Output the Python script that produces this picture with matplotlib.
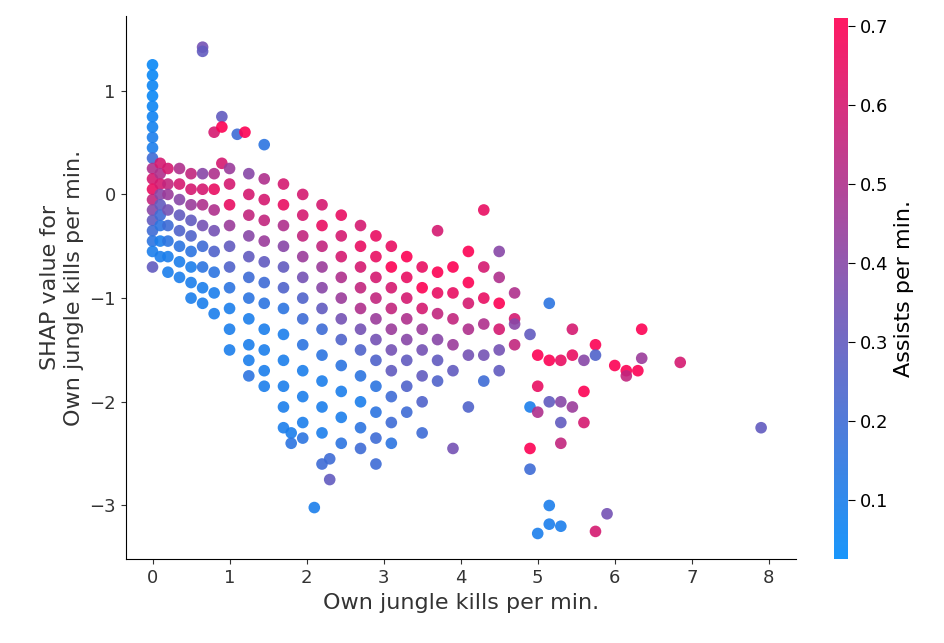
import matplotlib
matplotlib.use("Agg")
import matplotlib.pyplot as plt
from matplotlib.colors import LinearSegmentedColormap

# (own jungle kills per min, SHAP value, assists per min)
points = [
 (0,1.25,.05),(0,1.15,.05),(0,1.05,.06),(0,0.95,.05),(0,0.85,.06),(0,0.75,.07),(0,0.65,.08),(0,0.55,.1),
 (0,0.45,.1),(0,0.35,.2),(0,0.25,.5),(0,0.15,.6),(0,0.05,.65),(0,-0.05,.55),(0,-0.15,.4),(0,-0.25,.3),
 (0,-0.35,.2),(0,-0.45,.15),(0,-0.55,.1),(0,-0.7,.3),
 (0.1,0.3,.6),(0.1,0.2,.5),(0.1,0.1,.6),(0.1,0.0,.4),(0.1,-0.1,.3),(0.1,-0.2,.2),(0.1,-0.3,.15),(0.1,-0.45,.1),(0.1,-0.6,.1),
 (0.2,0.25,.6),(0.2,0.1,.55),(0.2,0.0,.45),(0.2,-0.15,.35),(0.2,-0.3,.2),(0.2,-0.45,.15),(0.2,-0.6,.1),(0.2,-0.75,.1),
 (0.35,0.25,.5),(0.35,0.1,.6),(0.35,-0.05,.4),(0.35,-0.2,.3),(0.35,-0.35,.25),(0.35,-0.5,.15),(0.35,-0.65,.1),(0.35,-0.8,.1),
 (0.5,0.2,.55),(0.5,0.05,.6),(0.5,-0.1,.45),(0.5,-0.25,.3),(0.5,-0.4,.25),(0.5,-0.55,.15),(0.5,-0.7,.1),(0.5,-0.85,.1),(0.5,-1.0,.1),
 (0.65,1.42,.35),(0.65,1.38,.3),(0.65,0.2,.4),(0.65,0.05,.6),(0.65,-0.1,.5),(0.65,-0.3,.35),(0.65,-0.5,.2),(0.65,-0.7,.15),(0.65,-0.9,.1),(0.65,-1.05,.1),
 (0.8,0.6,.6),(0.8,0.2,.5),(0.8,0.05,.65),(0.8,-0.15,.5),(0.8,-0.35,.35),(0.8,-0.55,.25),(0.8,-0.75,.15),(0.8,-0.95,.1),(0.8,-1.15,.1),
 (0.9,0.75,.3),(0.9,0.65,.7),(0.9,0.3,.6),(1.1,0.58,.2),(1.2,0.6,.7),
 (1.0,0.25,.45),(1.0,0.1,.6),(1.0,-0.1,.65),(1.0,-0.3,.45),(1.0,-0.5,.3),(1.0,-0.7,.25),(1.0,-0.9,.15),(1.0,-1.1,.1),(1.0,-1.3,.1),(1.0,-1.5,.1),
 (1.25,0.2,.4),(1.25,0.0,.6),(1.25,-0.2,.55),(1.25,-0.4,.4),(1.25,-0.6,.3),(1.25,-0.8,.2),(1.25,-1.0,.15),(1.25,-1.2,.1),(1.25,-1.45,.1),(1.25,-1.6,.1),(1.25,-1.75,.15),
 (1.45,0.48,.15),(1.45,0.15,.5),(1.45,-0.05,.6),(1.45,-0.25,.55),(1.45,-0.45,.45),(1.45,-0.65,.3),(1.45,-0.85,.2),(1.45,-1.05,.15),(1.45,-1.3,.1),(1.45,-1.5,.1),(1.45,-1.7,.1),(1.45,-1.85,.1),
 (1.7,0.1,.6),(1.7,-0.1,.65),(1.7,-0.3,.5),(1.7,-0.5,.4),(1.7,-0.7,.3),(1.7,-0.9,.25),(1.7,-1.1,.15),(1.7,-1.35,.1),(1.7,-1.6,.1),(1.7,-1.85,.1),(1.7,-2.05,.1),(1.7,-2.25,.1),
 (1.8,-2.3,.1),(1.8,-2.4,.15),
 (1.95,0.0,.6),(1.95,-0.2,.6),(1.95,-0.4,.55),(1.95,-0.6,.45),(1.95,-0.8,.35),(1.95,-1.0,.25),(1.95,-1.2,.2),(1.95,-1.45,.15),(1.95,-1.7,.1),(1.95,-1.95,.1),(1.95,-2.2,.1),(1.95,-2.35,.15),
 (2.1,-3.02,.1),
 (2.2,-0.1,.6),(2.2,-0.3,.65),(2.2,-0.5,.55),(2.2,-0.7,.45),(2.2,-0.9,.4),(2.2,-1.1,.3),(2.2,-1.3,.2),(2.2,-1.55,.15),(2.2,-1.8,.1),(2.2,-2.05,.1),(2.2,-2.3,.1),(2.2,-2.6,.2),
 (2.3,-2.75,.3),(2.3,-2.55,.2),
 (2.45,-0.2,.65),(2.45,-0.4,.6),(2.45,-0.6,.6),(2.45,-0.8,.5),(2.45,-1.0,.45),(2.45,-1.2,.35),(2.45,-1.4,.25),(2.45,-1.65,.15),(2.45,-1.9,.1),(2.45,-2.15,.1),(2.45,-2.4,.15),
 (2.7,-0.3,.6),(2.7,-0.5,.65),(2.7,-0.7,.6),(2.7,-0.9,.55),(2.7,-1.1,.5),(2.7,-1.3,.35),(2.7,-1.5,.25),(2.7,-1.75,.15),(2.7,-2.0,.1),(2.7,-2.25,.15),(2.7,-2.45,.2),
 (2.9,-0.4,.65),(2.9,-0.6,.65),(2.9,-0.8,.6),(2.9,-1.0,.55),(2.9,-1.2,.45),(2.9,-1.4,.35),(2.9,-1.6,.25),(2.9,-1.85,.15),(2.9,-2.1,.15),(2.9,-2.35,.2),(2.9,-2.6,.2),
 (3.1,-0.5,.65),(3.1,-0.7,.7),(3.1,-0.9,.6),(3.1,-1.1,.55),(3.1,-1.3,.45),(3.1,-1.5,.35),(3.1,-1.7,.3),(3.1,-1.95,.2),(3.1,-2.2,.2),(3.1,-2.4,.15),
 (3.3,-0.6,.7),(3.3,-0.8,.65),(3.3,-1.0,.6),(3.3,-1.2,.5),(3.3,-1.4,.4),(3.3,-1.6,.3),(3.3,-1.85,.25),(3.3,-2.1,.2),
 (3.5,-0.7,.65),(3.5,-0.9,.7),(3.5,-1.1,.6),(3.5,-1.3,.45),(3.5,-1.5,.35),(3.5,-1.75,.3),(3.5,-2.0,.25),(3.5,-2.3,.2),
 (3.7,-0.35,.6),(3.7,-0.75,.7),(3.7,-0.95,.65),(3.7,-1.15,.55),(3.7,-1.4,.4),(3.7,-1.6,.3),(3.7,-1.8,.25),
 (3.9,-0.7,.7),(3.9,-0.95,.65),(3.9,-1.2,.55),(3.9,-1.45,.45),(3.9,-1.7,.3),(3.9,-2.45,.35),
 (4.1,-0.55,.7),(4.1,-0.85,.7),(4.1,-1.05,.6),(4.1,-1.3,.5),(4.1,-1.55,.35),(4.1,-2.05,.25),
 (4.3,-0.15,.65),(4.3,-0.7,.6),(4.3,-1.0,.65),(4.3,-1.25,.5),(4.3,-1.55,.35),(4.3,-1.8,.2),
 (4.5,-0.55,.4),(4.5,-0.8,.5),(4.5,-1.05,.7),(4.5,-1.3,.6),(4.5,-1.5,.35),(4.5,-1.7,.3),
 (4.7,-0.95,.5),(4.7,-1.2,.6),(4.7,-1.45,.55),(4.7,-1.25,.4),
 (4.9,-1.35,.3),(4.9,-2.05,.1),(4.9,-2.65,.2),(4.9,-2.45,.7),
 (5.0,-1.55,.7),(5.0,-2.1,.5),(5.0,-1.85,.65),(5.0,-3.27,.1),
 (5.15,-1.05,.15),(5.15,-1.6,.7),(5.15,-2.0,.3),(5.15,-3.0,.1),(5.15,-3.18,.1),
 (5.3,-1.6,.65),(5.3,-2.0,.4),(5.3,-2.4,.55),(5.3,-2.2,.3),(5.3,-3.2,.1),
 (5.45,-1.3,.6),(5.45,-1.55,.65),(5.45,-2.05,.45),
 (5.6,-1.9,.7),(5.6,-1.6,.4),(5.6,-2.2,.6),
 (5.75,-1.45,.7),(5.75,-1.55,.25),(5.75,-3.25,.6),(5.9,-3.08,.35),
 (6.0,-1.65,.7),(6.15,-1.7,.7),(6.15,-1.75,.55),(6.3,-1.7,.7),(6.35,-1.3,.7),(6.35,-1.58,.45),
 (6.85,-1.62,.6),(7.9,-2.25,.3),
]
x_kills = [p[0] for p in points]
shap_vals = [p[1] for p in points]
assists = [p[2] for p in points]

cmap = LinearSegmentedColormap.from_list("shap_rb", ["#008bfb", "#7a4fb0", "#ff0052"])

fig = plt.figure(figsize=(9.44, 6.43), dpi=100)
ax = fig.add_axes([0.133, 0.13, 0.71, 0.845])
cax = fig.add_axes([0.884, 0.13, 0.014, 0.842])
sc = ax.scatter(x_kills, shap_vals, c=assists, cmap=cmap, vmin=0.025, vmax=0.71,
                s=70, linewidths=0, alpha=0.9)
ax.set_xlim(-0.35, 8.35)
ax.set_ylim(-3.52, 1.72)
ax.set_xticks(range(0, 9))
ax.set_yticks([-3, -2, -1, 0, 1])
ax.set_yticklabels(["\u22123", "\u22122", "\u22121", "0", "1"])
for s in ["top", "right"]:
    ax.spines[s].set_visible(False)
ax.tick_params(labelsize=13, colors="#333333")
ax.set_xlabel("Own jungle kills per min.", fontsize=16, color="#333333")
ax.set_ylabel("SHAP value for\nOwn jungle kills per min.", fontsize=16, color="#333333")
cb = fig.colorbar(sc, cax=cax)
cb.outline.set_visible(False)
cb.set_ticks([0.1, 0.2, 0.3, 0.4, 0.5, 0.6, 0.7])
cb.ax.tick_params(labelsize=13, length=5)
cb.set_label("Assists per min.", fontsize=16)
fig.savefig("out.png", dpi=100)
